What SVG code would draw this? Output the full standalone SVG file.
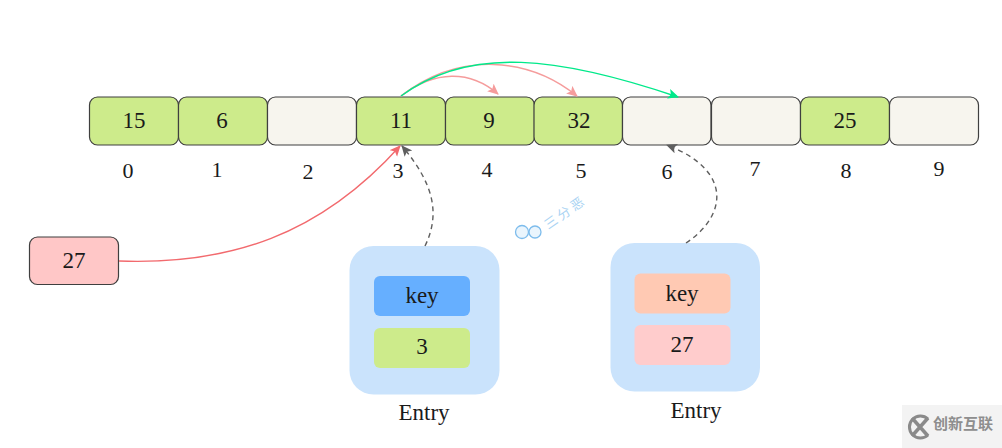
<svg xmlns="http://www.w3.org/2000/svg" width="1002" height="448" viewBox="0 0 1002 448">
<style>
text{font-family:"Liberation Serif","Times New Roman",serif;fill:#1a1a1a;text-anchor:middle;font-size:23px}
.cell rect{stroke:#3f3f3f;stroke-width:1.2}
.g{fill:#cdeb8b}
.e{fill:#f7f5ee}
.idx{font-size:22px}
.c{fill:none;stroke-width:1.4}
</style>
<defs>
<marker id="mr" markerUnits="userSpaceOnUse" markerWidth="12" markerHeight="12" refX="10" refY="5" orient="auto"><path d="M0 0L11 5L0 10L2.500 5Z" fill="#f26a6e"/></marker>
<marker id="mp" markerUnits="userSpaceOnUse" markerWidth="12" markerHeight="12" refX="10" refY="5" orient="auto"><path d="M0 0L11 5L0 10L2.500 5Z" fill="#f59c9c"/></marker>
<marker id="mg" markerUnits="userSpaceOnUse" markerWidth="12" markerHeight="12" refX="10" refY="5" orient="auto"><path d="M0 0L11 5L0 10L2.500 5Z" fill="#00e98a"/></marker>
<marker id="md" markerUnits="userSpaceOnUse" markerWidth="12" markerHeight="12" refX="10" refY="5" orient="auto"><path d="M0 0L11 5L0 10L2.500 5Z" fill="#5f5f5f"/></marker>
</defs>
<rect width="1002" height="448" fill="#fff"/>
<g id="array">
<g id="cell0" class="cell"><rect class="g" x="89.500" y="97" width="89" height="48" rx="8"/><text x="134" y="128">15</text></g>
<g id="cell1" class="cell"><rect class="g" x="178.500" y="97" width="89" height="48" rx="8"/><text x="222" y="128">6</text></g>
<g id="cell2" class="cell"><rect class="e" x="267.500" y="97" width="89" height="48" rx="8"/></g>
<g id="cell3" class="cell"><rect class="g" x="356.500" y="97" width="89" height="48" rx="8"/><text x="401" y="128">11</text></g>
<g id="cell4" class="cell"><rect class="g" x="445.500" y="97" width="89" height="48" rx="8"/><text x="489" y="128">9</text></g>
<g id="cell5" class="cell"><rect class="g" x="534" y="97" width="88.500" height="48" rx="8"/><text x="579" y="128">32</text></g>
<g id="cell6" class="cell"><rect class="e" x="622.500" y="97" width="88.500" height="48" rx="8"/></g>
<g id="cell7" class="cell"><rect class="e" x="711.500" y="97" width="89" height="48" rx="8"/></g>
<g id="cell8" class="cell"><rect class="g" x="800.500" y="97" width="89" height="48" rx="8"/><text x="845" y="128">25</text></g>
<g id="cell9" class="cell"><rect class="e" x="889.500" y="97" width="89" height="48" rx="8"/></g>
</g>
<g id="indices">
<text class="idx" x="128" y="178">0</text>
<text class="idx" x="217" y="177">1</text>
<text class="idx" x="308" y="179">2</text>
<text class="idx" x="398" y="178">3</text>
<text class="idx" x="487" y="177">4</text>
<text class="idx" x="581" y="178">5</text>
<text class="idx" x="667" y="179">6</text>
<text class="idx" x="755" y="176">7</text>
<text class="idx" x="846" y="178">8</text>
<text class="idx" x="939" y="176">9</text>
</g>
<g id="node27" class="cell"><rect x="29.500" y="237" width="89" height="47.500" rx="8" fill="#ffc7c7"/><text x="74" y="268">27</text></g>
<g id="entry1">
<rect x="349.500" y="246" width="150" height="148.500" rx="24" fill="#cae3fc"/>
<rect x="374" y="276" width="96" height="40" rx="6" fill="#66afff"/><text x="422" y="303">key</text>
<rect x="374" y="328" width="96" height="40" rx="6" fill="#cdeb8b"/><text x="422" y="354">3</text>
<text x="424" y="420">Entry</text>
</g>
<g id="entry2">
<rect x="610.500" y="243" width="149.500" height="148.500" rx="24" fill="#cae3fc"/>
<rect x="634.500" y="273.500" width="96" height="40" rx="6" fill="#ffc9b3"/><text x="682" y="301">key</text>
<rect x="634.500" y="325" width="96" height="40" rx="6" fill="#ffcccc"/><text x="682" y="352">27</text>
<text x="696" y="418">Entry</text>
</g>
<g id="connectors">
<path class="c" stroke="#f26a6e" marker-end="url(#mr)" d="M119 261C230 265 320 235 400 146"/>
<path class="c" stroke="#5f5f5f" stroke-dasharray="5 4" marker-end="url(#md)" d="M425 246C440 215 435 185 402 146"/>
<path class="c" stroke="#5f5f5f" stroke-dasharray="5 4" marker-end="url(#md)" d="M686 243C728 215 732 170 667 145"/>
<path class="c" stroke="#f59c9c" marker-end="url(#mp)" d="M401 96C435 70 470 70 498 94"/>
<path class="c" stroke="#f59c9c" marker-end="url(#mp)" d="M401 96C460 50 530 58 577 96"/>
<path class="c" stroke="#00e98a" marker-end="url(#mg)" d="M401 96C470 45 560 57 678 97"/>
</g>
<g id="watermark-sanfene">
<circle cx="522" cy="232" r="6.500" fill="#eaf5fd" stroke="#7dbcec" stroke-width="1.300"/>
<circle cx="535" cy="232" r="6" fill="#eaf5fd" stroke="#7dbcec" stroke-width="1.300"/>
<text transform="rotate(-35 565 212)" x="565" y="217" style="font-family:'Noto Sans CJK SC',sans-serif;font-size:13px;letter-spacing:3px;fill:#a9d3f3">三分恶</text>
</g>
<g id="watermark-cx">
<rect x="902" y="405" width="100" height="43" fill="#f3f3f3"/>
<path d="M928 419A11 11 0 1 0 928 435" fill="none" stroke="#8a8a8a" stroke-width="3"/>
<path d="M912 418L928 436M928 418L912 436" stroke="#8a8a8a" stroke-width="3.500"/>
<text x="963" y="429" style="font-family:'Noto Sans CJK SC',sans-serif;font-size:15px;fill:#8e8e8e;font-weight:700">创新互联</text>
</g>
</svg>
